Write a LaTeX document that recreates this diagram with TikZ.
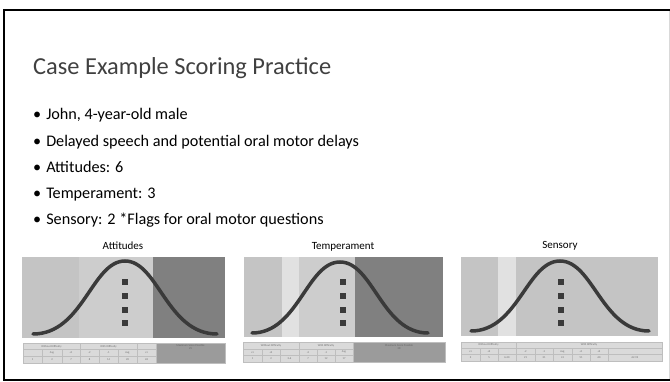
\documentclass[tikz,border=0pt]{standalone}
\usepackage{fontspec}
\setmainfont{Carlito}
\definecolor{gA}{RGB}{196,196,196}
\definecolor{gB}{RGB}{205,205,205}
\definecolor{gC}{RGB}{225,225,225}
\definecolor{gD}{RGB}{128,128,128}
\definecolor{cellfill}{RGB}{218,218,218}
\definecolor{cellline}{RGB}{190,190,190}
\definecolor{maxfill}{RGB}{155,155,155}
\definecolor{curvecol}{RGB}{58,58,58}
\definecolor{txtgray}{RGB}{110,110,110}
\tikzset{
  band/.style={fill=#1,draw=none},
  curvest/.style={draw=curvecol,line width=3.5pt,line cap=round},
  dotst/.style={fill=curvecol,draw=none,minimum size=5.5pt,inner sep=0pt,rectangle},
  cellst/.style={fill=cellfill,draw=cellline,line width=0.4pt},
  maxst/.style={fill=maxfill,draw=cellline,line width=0.4pt},
  celltxt/.style={font=\fontsize{2.8}{3}\selectfont,text=txtgray,inner sep=0pt},
  bullet/.style={anchor=base west,font=\fontsize{16.2}{18}\selectfont,inner sep=0pt},
  plabel/.style={font=\fontsize{11}{12}\selectfont,inner sep=0pt,anchor=base},
}
\newcommand\bellcurve[4]{%
  \draw[curvest] ({#1-#2},#3) .. controls ({#1-42},#3) and ({#1-33},#4) .. (#1,#4)
     .. controls ({#1+33},#4) and ({#1+42},#3) .. ({#1+#2},#3);}
\newcommand\tcell[5]{%
  \draw[cellst] (#1,#3) rectangle (#2,#4);
  \node[celltxt] at ({(#1+#2)/2},{(#3+#4)/2}) {#5};}
\newcommand\dotcol[2]{%
  \foreach \yy in {282,296,310,323} {\node[dotst] at (#1,\yy) {};}}
\begin{document}
\begin{tikzpicture}[x=1pt,y=-1pt]
\useasboundingbox (0,0) rectangle (670,382);
% frame
\draw[gray!30,line width=1pt] (669,10) -- (669,380);
\draw[black,line width=2.6pt] (670,10) -- (4,10) -- (4,380) -- (670,380);
% title
\node[anchor=base west,inner sep=0pt,font=\fontsize{24.4}{28}\selectfont,text=black!75] (title) at (33,75) {Case Example Scoring Practice};
% bullets
\node[bullet] (b1) at (33,120) {•\hspace{5pt}John, 4-year-old male};
\node[bullet] (b2) at (33,147) {•\hspace{5pt}Delayed speech and potential oral motor delays};
\node[bullet] (b3) at (33,173) {•\hspace{5pt}Attitudes: 6};
\node[bullet] (b4) at (33,199) {•\hspace{5pt}Temperament: 3};
\node[bullet] (b5) at (33,225) {•\hspace{5pt}Sensory: 2 *Flags for oral motor questions};
% panel labels
\node[plabel] (l1) at (123,250) {Attitudes};
\node[plabel] (l2) at (343,250) {Temperament};
\node[plabel] (l3) at (560,249) {Sensory};
% ---------- panel 1 ----------
\fill[gA] (22,257) rectangle (79,338);
\fill[gB] (79,257) rectangle (153,338);
\fill[gD] (153,257) rectangle (225,338);
\bellcurve{125}{92}{334}{261}
\dotcol{125}
\draw[gray!35,line width=0.6pt] (22,341) -- (225,341);
\foreach \a/\b/\t in {23/80/Without Difficulty,80/137/With Difficulty,137/156/{}}
  {\tcell{\a}{\b}{343}{349.7}{\t}}
\foreach \a/\b/\t in {23/42/{},42/62/Avg,62/80/+1,80/99/-2,99/118/-1,118/137/Avg,137/156/+1}
  {\tcell{\a}{\b}{349.7}{356.4}{\t}}
\foreach \a/\b/\t in {23/42/1,42/62/2,62/80/7,80/99/8,99/118/14,118/137/20,137/156/26}
  {\tcell{\a}{\b}{356.4}{363}{\t}}
\draw[maxst] (156,343) rectangle (225,363);
\node[celltxt,text=black!60,align=center] (m1) at (190.5,347.5) {Maximum Score Possible\\25};
% ---------- panel 2 ----------
\fill[gA] (244,257) rectangle (282,337);
\fill[gC] (282,257) rectangle (299,337);
\fill[gB] (299,257) rectangle (355,337);
\fill[gD] (355,257) rectangle (443,337);
\bellcurve{340}{88}{333}{262}
\dotcol{343}
\draw[gray!35,line width=0.6pt] (243,340) -- (445,340);
\foreach \a/\b/\t in {243/299/Without Difficulty,299/353/With Difficulty}
  {\tcell{\a}{\b}{342.5}{349}{\t}}
\foreach \a/\b/\t in {243/262/+1,262/280/+2,280/299/{},299/317/-2,317/335/-1,335/353/Avg}
  {\tcell{\a}{\b}{349}{355.5}{\t}}
\foreach \a/\b/\t in {243/262/1,262/280/2,280/299/3-6,299/317/7,317/335/12,335/353/17}
  {\tcell{\a}{\b}{355.5}{362}{\t}}
\draw[maxst] (353,342.5) rectangle (445,362);
\node[celltxt,text=black!60,align=center] (m2) at (399,347) {Maximum Score Possible\\28};
% ---------- panel 3 ----------
\fill[gA] (461,257) rectangle (498,336);
\fill[gC] (498,257) rectangle (516,336);
\fill[gA] (516,257) rectangle (658,336);
\bellcurve{560}{89}{331}{261}
\dotcol{561}
\draw[gray!35,line width=0.6pt] (461,339.5) -- (662,339.5);
\foreach \a/\b/\t in {461/516/Without Difficulty,516/662/With Difficulty}
  {\tcell{\a}{\b}{342}{348.3}{\t}}
\foreach \a/\b/\t in {461/480/+1,480/498/+2,498/516/{},516/535/-2,535/553/-1,553/572/Avg,572/590/+1,590/608/+2,608/662/{}}
  {\tcell{\a}{\b}{348.3}{354.6}{\t}}
\foreach \a/\b/\t in {461/480/3,480/498/5,498/516/6-20,516/535/21,535/553/31,553/572/41,572/590/51,590/608/60,608/662/62-92}
  {\tcell{\a}{\b}{354.6}{361}{\t}}
\end{tikzpicture}
\end{document}
